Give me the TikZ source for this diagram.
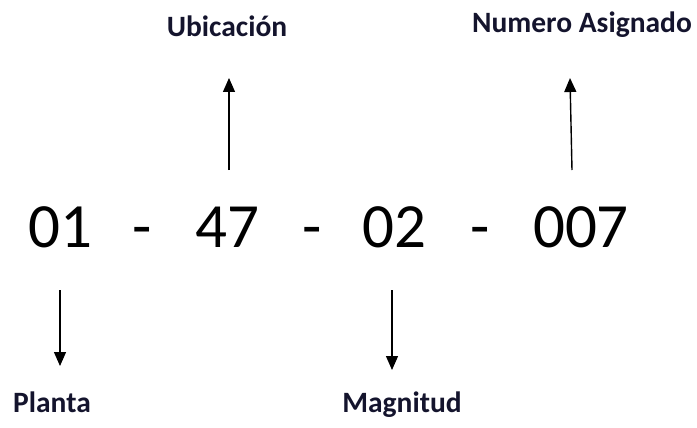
\documentclass[tikz,border=0pt]{standalone}
\usepackage{fontspec}
\setmainfont{Carlito}
\usetikzlibrary{arrows.meta}
\definecolor{lbl}{RGB}{20,20,45}
\begin{document}
\begin{tikzpicture}[x=1pt,y=-1pt,
  num/.style={anchor=base,inner sep=0pt,font=\fontsize{63}{70}\selectfont},
  lab/.style={anchor=base,inner sep=0pt,text=lbl,font=\fontsize{29.5}{33}\selectfont\bfseries},
  arr/.style={line width=1.4pt,-{Triangle[width=12pt,length=14pt]}}]
\useasboundingbox (0,0) rectangle (697,428);
% numbers row
\node[num] (n01) at (60,247) {01};
\node[num] (s1) at (142,247) {-};
\node[num] (n47) at (227,247) {47};
\node[num] (s2) at (312,247) {-};
\node[num] (n02) at (394,247) {02};
\node[num] (s3) at (480,247) {-};
\node[num] (n007) at (581,247) {007};
% labels
\node[lab] (ubi) at (227,37) {Ubicación};
\node[lab] (nas) at (582,33) {Numero Asignado};
\node[lab] (pla) at (52,412) {Planta};
\node[lab] (mag) at (402,412) {Magnitud};
% arrow end points
\coordinate (u0) at (229,170); \coordinate (u1) at (229,78);
\coordinate (a0) at (572,170); \coordinate (a1) at (570,78);
\coordinate (p0) at (60,290);  \coordinate (p1) at (60,366);
\coordinate (m0) at (392,290); \coordinate (m1) at (392,370);
\draw[arr] (u0) -- (u1);
\draw[arr] (a0) -- (a1);
\draw[arr] (p0) -- (p1);
\draw[arr] (m0) -- (m1);
\end{tikzpicture}
\end{document}
